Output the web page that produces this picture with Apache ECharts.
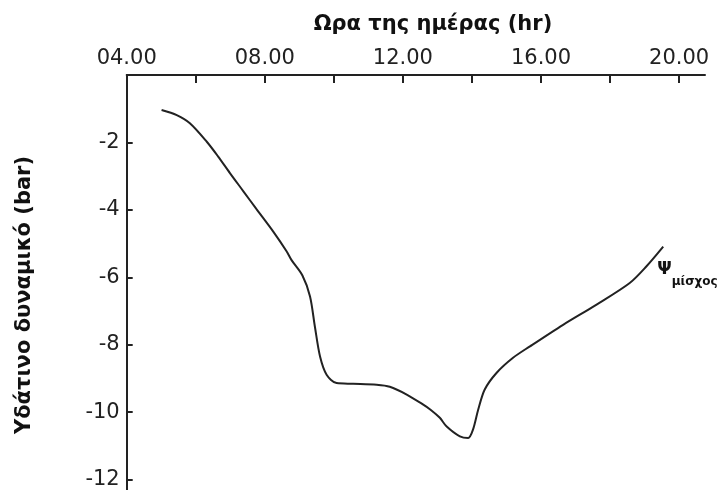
<!DOCTYPE html>
<html>
<head>
<meta charset="utf-8">
<script src="https://cdn.jsdelivr.net/npm/echarts@6/dist/echarts.min.js"></script>
<style>
html,body{margin:0;padding:0;background:#fff;}
#chart{width:721px;height:490px;}
</style>
</head>
<body>
<div id="chart"></div>
<script>
// Time of day (hr)
var hours = [5.01, 5.45, 5.83, 6.32, 6.65, 6.99, 7.38, 7.76, 8.24, 8.63, 8.78, 9.09, 9.31, 9.45, 9.60, 9.79, 10.08, 10.56, 11.24, 11.62, 12.11, 12.59, 12.80, 13.07, 13.26, 13.65, 13.89, 14.03, 14.18, 14.37, 14.71, 15.19, 15.68, 16.64, 17.61, 18.57, 19.05, 19.54];
// Leaf water potential (bar)
var potential = [-1.04, -1.19, -1.43, -1.98, -2.42, -2.91, -3.45, -3.98, -4.64, -5.23, -5.50, -5.95, -6.57, -7.46, -8.35, -8.89, -9.14, -9.16, -9.19, -9.25, -9.48, -9.78, -9.93, -10.17, -10.42, -10.72, -10.77, -10.52, -9.93, -9.33, -8.84, -8.39, -8.05, -7.41, -6.81, -6.17, -5.68, -5.09];

var xTickValues = [4, 6, 8, 10, 12, 14, 16, 18, 20];
var xLabelValues = [4, 8, 12, 16, 20];
var xLabelTexts = ['04.00', '08.00', '12.00', '16.00', '20.00'];
var yTickValues = [-2, -4, -6, -8, -10, -12];
var yLabelTexts = ['-2', '-4', '-6', '-8', '-10', '-12'];

var xTitle = 'Ωρα της ημέρας (hr)';
var yTitle = 'Υδάτινο δυναμικό (bar)';
var seriesName = 'μίσχος';

var data = hours.map(function (h, i) { return [h, potential[i]]; });

var ink = '#222';
var titleFont = 'bold 21px "DejaVu Sans", sans-serif';
var chart = echarts.init(document.getElementById('chart'));
chart.setOption({
  animation: false,
  backgroundColor: '#fff',
  grid: { left: 126.7, right: 16, top: 75, bottom: 0, containLabel: false },
  graphic: [
    { type: 'text', x: 433, y: 25, style: { text: xTitle, font: titleFont, fill: '#111', textAlign: 'center', textVerticalAlign: 'middle' } },
    { type: 'text', x: 25, y: 295, rotation: Math.PI / 2, style: { text: yTitle, font: titleFont, fill: '#111', textAlign: 'center', textVerticalAlign: 'middle' } }
  ],
  xAxis: {
    type: 'value', position: 'top', min: 4, max: 20.75,
    splitLine: { show: false },
    axisLine: { show: true, lineStyle: { color: ink, width: 2 } },
    axisTick: { show: true, inside: true, length: 8, customValues: xTickValues, lineStyle: { color: ink, width: 2 } },
    axisLabel: {
      show: true, customValues: xLabelValues, margin: 6,
      formatter: function (v) { var i = xLabelValues.indexOf(v); return i >= 0 ? xLabelTexts[i] : ''; },
      fontFamily: '"DejaVu Sans", sans-serif', fontSize: 21, color: '#222'
    }
  },
  yAxis: {
    type: 'value', min: -12.3, max: 0,
    splitLine: { show: false },
    axisLine: { show: true, lineStyle: { color: ink, width: 2 } },
    axisTick: { show: true, inside: true, length: 6, customValues: yTickValues, lineStyle: { color: ink, width: 2 } },
    axisLabel: {
      show: true, customValues: yTickValues, margin: 7,
      formatter: function (v) { var i = yTickValues.indexOf(v); return i >= 0 ? yLabelTexts[i] : ''; },
      fontFamily: '"DejaVu Sans", sans-serif', fontSize: 21, color: '#222'
    }
  },
  series: [{
    type: 'line', name: seriesName, data: data, smooth: 0.3, showSymbol: false,
    lineStyle: { color: ink, width: 2 },
    endLabel: {
      show: true, offset: [-14, 28],
      formatter: '{a|Ψ}{b|' + seriesName + '}',
      rich: {
        a: { fontFamily: '"DejaVu Sans", sans-serif', fontWeight: 'bold', fontSize: 17, color: '#111', verticalAlign: 'top', lineHeight: 26 },
        b: { fontFamily: '"DejaVu Sans", sans-serif', fontWeight: 'bold', fontSize: 12, color: '#111', verticalAlign: 'bottom', lineHeight: 26 }
      }
    }
  }]
});
</script>
</body>
</html>
